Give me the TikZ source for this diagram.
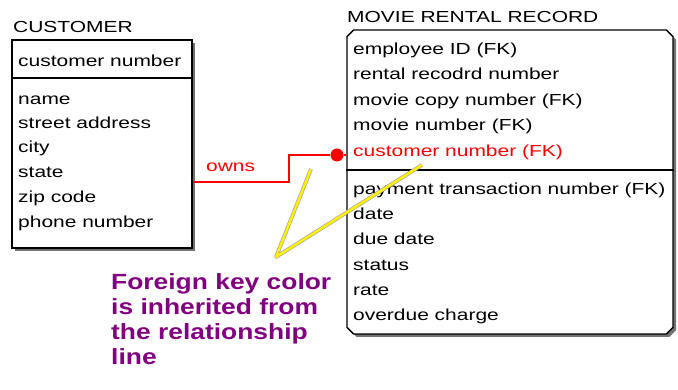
\documentclass[tikz,border=0pt]{standalone}
\usepackage{fontspec}
\setmainfont[FakeStretch=1.31]{Liberation Sans}
\newfontfamily\notefont[FakeStretch=1.2]{Liberation Sans}
\usetikzlibrary{shapes.misc,shadows}
\definecolor{notepurple}{RGB}{128,0,128}

\begin{document}
\begin{tikzpicture}[x=1pt,y=-1pt,
    entity/.style={draw,line width=1.4pt,fill=white,
      drop shadow={shadow xshift=3pt,shadow yshift=-3pt,fill=black!55,opacity=1}},
    attr/.style={anchor=base west,inner sep=0pt,font=\fontsize{16}{19}\selectfont},
    relline/.style={draw=red,line width=1.2pt},
    fkdot/.style={circle,fill=red,inner sep=0pt,minimum size=13pt},
    callout/.style={draw=black!35,double=yellow,double distance=2.4pt,line width=0.7pt,line join=round},
    note/.style={anchor=north west,align=left,inner sep=0pt,text=notepurple,
      font=\notefont\bfseries\fontsize{22}{25}\selectfont}]
  \useasboundingbox (0,0) rectangle (678,390);

  % customer entity
  \node[entity,minimum width=180pt,minimum height=208pt] (cust) at (102,144) {};
  \node[attr] (custtitle) at (13,33) {CUSTOMER};
  \draw[line width=1.4pt] (cust.west |- 0,78) -- (cust.east |- 0,78);
  \node[attr] (custkey) at (18,67) {customer number};
  \node[attr] (name) at (18,105) {name};
  \node[attr] (street) at (18,129) {street address};
  \node[attr] (city) at (18,153) {city};
  \node[attr] (state) at (18,178) {state};
  \node[attr] (zip) at (18,203) {zip code};
  \node[attr] (phone) at (18,228) {phone number};

  % movie rental record entity
  \node[entity,chamfered rectangle,chamfered rectangle xsep=4pt,
    minimum width=326pt,minimum height=304pt] (rental) at (510,182) {};
  \node[attr] (rentaltitle) at (347,23) {MOVIE RENTAL RECORD};
  \draw[line width=1.4pt] (rental.west |- 0,170) -- (rental.east |- 0,170);
  \node[attr] (employee) at (353,55) {employee ID (FK)};
  \node[attr] (rentalnum) at (353,80) {rental recodrd number};
  \node[attr] (copynum) at (353,106) {movie copy number (FK)};
  \node[attr] (movienum) at (353,131) {movie number (FK)};
  \node[attr,text=red] (custfk) at (353,157) {customer number (FK)};
  \node[attr] (payment) at (353,195) {payment transaction number (FK)};
  \node[attr] (date) at (353,220) {date};
  \node[attr] (duedate) at (353,245) {due date};
  \node[attr] (status) at (353,271) {status};
  \node[attr] (rate) at (353,296) {rate};
  \node[attr] (overdue) at (353,321) {overdue charge};

  % relationship
  \coordinate (bend) at (289,182);
  \node[fkdot] (dot) at (337,155) {};
  \draw[relline] (cust.east |- bend) -- (bend) |- (dot) -- (rental.west |- dot);
  \node[attr,text=red] (owns) at (206,172) {owns};

  % note with callout
  \node[note] (note) at (111,273) {Foreign key color\\is inherited from\\the relationship\\line};
  \coordinate (tip) at (276,257);
  \coordinate (armA) at (311,169);
  \coordinate (armB) at (422,165);
  \draw[callout] (armA) -- (tip) -- (armB);
\end{tikzpicture}
\end{document}
